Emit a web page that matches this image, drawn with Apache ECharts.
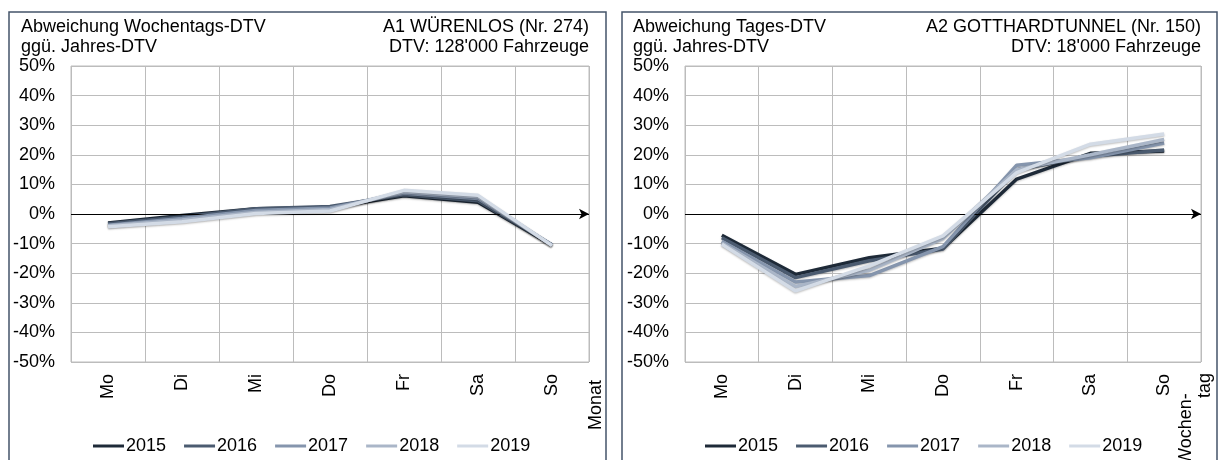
<!DOCTYPE html>
<html>
<head>
<meta charset="utf-8">
<script src="https://cdn.jsdelivr.net/npm/echarts@6/dist/echarts.min.js"></script>
<style>
  html, body { margin: 0; padding: 0; background: #fff; }
  #chart { width: 1219px; height: 460px; }
</style>
</head>
<body>
<div id="chart"></div>
<script>
// Wochentage und Jahre
const days = ["Mo", "Di", "Mi", "Do", "Fr", "Sa", "So"];
const years = ["2015", "2016", "2017", "2018", "2019"];
const yearColors = ["#1e2a38", "#4b5b70", "#8595ad", "#aab6c8", "#d3dbe6"];

// A1 Würenlos: Abweichung in %
const wurenlos2015 = [-3.0, -0.5, 1.8, 2.2, 6.2, 4.0, -10.5];
const wurenlos2016 = [-3.3, -1.0, 1.8, 2.5, 6.5, 4.5, -10.5];
const wurenlos2017 = [-3.8, -1.5, 1.2, 2.0, 7.0, 5.2, -10.5];
const wurenlos2018 = [-4.0, -2.0, 0.6, 1.5, 7.5, 5.8, -10.6];
const wurenlos2019 = [-4.3, -2.6, 0.2, 1.0, 8.0, 6.3, -10.7];

// A2 Gotthardtunnel: Abweichung in %
const gotthard2015 = [-7.2, -20.4, -14.8, -11.6, 11.8, 20.5, 21.3];
const gotthard2016 = [-8.0, -21.5, -15.8, -11.8, 15.0, 19.5, 21.6];
const gotthard2017 = [-9.2, -23.0, -20.8, -11.0, 16.5, 19.0, 24.0];
const gotthard2018 = [-9.8, -24.5, -19.0, -8.2, 15.0, 20.0, 25.2];
const gotthard2019 = [-10.2, -26.0, -17.5, -7.4, 14.0, 23.6, 27.0];

const wurenlos = [wurenlos2015, wurenlos2016, wurenlos2017, wurenlos2018, wurenlos2019];
const gotthard = [gotthard2015, gotthard2016, gotthard2017, gotthard2018, gotthard2019];

const font = "Arial, 'Liberation Sans', sans-serif";
const gridColor = "#bcbcbc";
const panelColor = "#44546a";

var myChart = echarts.init(document.getElementById("chart"));

function xAxisFor(gridIndex) {
  return {
    type: "category",
    gridIndex: gridIndex,
    data: days,
    boundaryGap: true,
    axisLine: { show: false },
    axisTick: { show: false },
    axisLabel: { rotate: 90, margin: 12, fontSize: 18, color: "#000", fontFamily: font },
    splitLine: { show: true, lineStyle: { color: gridColor, width: 1 } },
  };
}

function yAxisFor(gridIndex) {
  return {
    type: "value",
    gridIndex: gridIndex,
    min: -50,
    max: 50,
    interval: 10,
    axisLine: { show: false },
    axisTick: { show: false },
    axisLabel: { formatter: "{value}%", margin: 16, fontSize: 18, color: "#000", fontFamily: font },
    splitLine: { show: true, lineStyle: { color: gridColor, width: 1 } },
  };
}

// Nulllinie mit Pfeil
var zeroLine = {
  silent: true,
  symbol: ["none", "arrow"],
  symbolSize: [8, 10],
  label: { show: false },
  lineStyle: { color: "#000", width: 1, type: "solid" },
  data: [{ yAxis: 0 }],
};

function seriesFor(gridIndex, values) {
  return years.map(function (year, i) {
    var s = {
      name: year,
      type: "line",
      xAxisIndex: gridIndex,
      yAxisIndex: gridIndex,
      data: values[i],
      showSymbol: false,
      color: yearColors[i],
      lineStyle: {
        width: 3.5,
        color: yearColors[i],
        shadowColor: "rgba(0,0,0,0.25)",
        shadowBlur: 2,
        shadowOffsetY: 1,
      },
      emphasis: { disabled: true },
      z: 3 + i,
    };
    if (i === 0) s.markLine = zeroLine;
    return s;
  });
}

function legendFor(left) {
  return {
    left: left,
    top: 437,
    padding: 0,
    data: years,
    icon: "rect",
    itemWidth: 31,
    itemHeight: 3,
    itemGap: 18,
    textStyle: { fontSize: 18, color: "#000", fontFamily: font, padding: [0, 0, 0, -3] },
  };
}

function textAt(x, y, text, align) {
  return {
    type: "text", x: x, y: y, silent: true,
    style: { text: text, fontSize: 18, fontFamily: font, fill: "#000", textAlign: align, textVerticalAlign: "top", lineHeight: 20 },
  };
}

function rotatedText(x, y, text) {
  return {
    type: "text", x: x, y: y, rotation: Math.PI / 2, silent: true,
    style: { text: text, fontSize: 18, fontFamily: font, fill: "#000", textAlign: "left", textVerticalAlign: "top" },
  };
}

var option = {
  animation: false,
  legend: [legendFor(93), legendFor(705)],
  grid: [
    { left: 71, top: 66, width: 518, height: 296, show: true, borderColor: gridColor, borderWidth: 1 },
    { left: 685, top: 66, width: 516, height: 296, show: true, borderColor: gridColor, borderWidth: 1 },
  ],
  xAxis: [xAxisFor(0), xAxisFor(1)],
  yAxis: [yAxisFor(0), yAxisFor(1)],
  series: seriesFor(0, wurenlos).concat(seriesFor(1, gotthard)),
  graphic: [
    { type: "rect", shape: { x: 9, y: 12, width: 597, height: 460 }, style: { fill: "none", stroke: panelColor, lineWidth: 1.5 }, silent: true },
    { type: "rect", shape: { x: 622, y: 12, width: 595, height: 460 }, style: { fill: "none", stroke: panelColor, lineWidth: 1.5 }, silent: true },
    textAt(21, 17, "Abweichung Wochentags-DTV\nggü. Jahres-DTV", "left"),
    textAt(589, 17, "A1 WÜRENLOS (Nr. 274)\nDTV: 128'000 Fahrzeuge", "right"),
    textAt(633, 17, "Abweichung Tages-DTV\nggü. Jahres-DTV", "left"),
    textAt(1201, 17, "A2 GOTTHARDTUNNEL (Nr. 150)\nDTV: 18'000 Fahrzeuge", "right"),
    rotatedText(587, 430, "Monat"),
    rotatedText(1196, 398, "tag"),
    rotatedText(1177, 465, "Wochen-"),
  ],
};

option && myChart.setOption(option);
</script>
</body>
</html>
